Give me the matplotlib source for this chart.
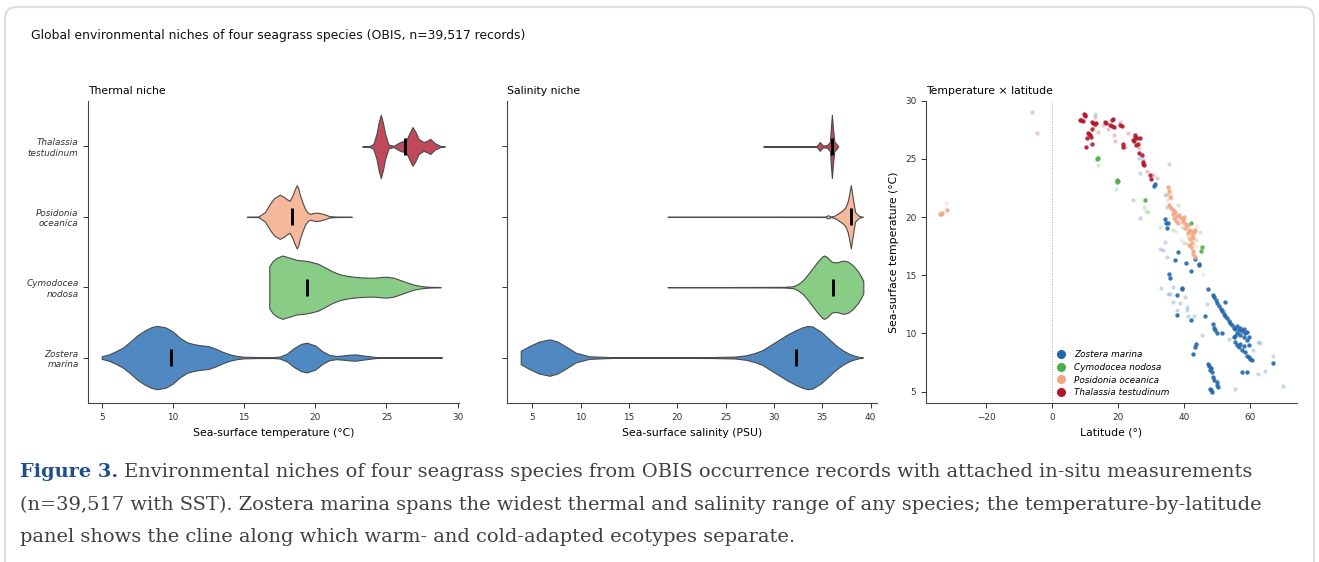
import numpy as np
import matplotlib
matplotlib.use('Agg')
import matplotlib.pyplot as plt
from matplotlib.patches import FancyBboxPatch
from matplotlib.lines import Line2D

# Species (bottom to top in the violin panels)
species = ['Zostera\nmarina', 'Cymodocea\nnodosa', 'Posidonia\noceanica', 'Thalassia\ntestudinum']
legend_names = ['Zostera marina', 'Cymodocea nodosa', 'Posidonia oceanica', 'Thalassia testudinum']
point_colors = ['#2166ac', '#4daf4a', '#f4a582', '#b2182b']
violin_colors = ['#5088c1', '#89cc86', '#f6b89b', '#c2485b']

# Thermal niche: density profiles (SST value, relative width)
zm_sst_x = [5.0, 5.5, 6.0, 6.5, 7.0, 7.5, 8.0, 8.5, 8.9, 9.5, 10.0, 10.5, 11.0, 11.5, 11.9, 12.5, 13.0,
            13.5, 14.0, 14.5, 15.0, 16.0, 17.0, 17.5, 18.0, 18.5, 19.0, 19.4, 20.0, 20.5, 21.0, 21.5,
            22.0, 22.4, 22.8, 23.3, 23.8, 24.3, 25.0, 28.9]
zm_sst_d = [0.04, 0.1, 0.2, 0.32, 0.5, 0.7, 0.85, 0.96, 1.0, 0.95, 0.82, 0.62, 0.48, 0.42, 0.39, 0.36, 0.28,
            0.18, 0.1, 0.05, 0.025, 0.015, 0.015, 0.03, 0.12, 0.3, 0.43, 0.47, 0.38, 0.2, 0.08, 0.05,
            0.07, 0.09, 0.1, 0.07, 0.04, 0.015, 0.004, 0.002]
cn_sst_x = [16.77, 17.0, 17.3, 17.7, 18.2, 18.7, 19.2, 19.7, 20.2, 20.7, 21.2, 21.7, 22.2, 22.7, 23.2,
            23.7, 24.2, 24.6, 25.0, 25.5, 26.0, 26.5, 27.0, 27.5, 28.0, 28.8]
cn_sst_d = [0.66, 0.82, 0.93, 1.0, 0.93, 0.86, 0.84, 0.8, 0.74, 0.62, 0.5, 0.41, 0.36, 0.33, 0.31,
            0.3, 0.3, 0.32, 0.33, 0.3, 0.22, 0.14, 0.07, 0.03, 0.012, 0.005]
po_sst_x = [15.2, 16.0, 16.47, 16.82, 17.1, 17.5, 17.8, 18.0, 18.2, 18.4, 18.55, 18.7, 18.8, 18.93,
            19.1, 19.28, 19.45, 19.63, 19.8, 19.98, 20.3, 20.7, 21.0, 21.5, 22.56]
po_sst_d = [0.005, 0.01, 0.15, 0.41, 0.58, 0.69, 0.62, 0.55, 0.5, 0.67, 0.85, 0.99, 0.9, 0.67,
            0.45, 0.25, 0.14, 0.09, 0.11, 0.13, 0.12, 0.07, 0.02, 0.008, 0.004]
tt_sst_x = [23.3, 23.8, 24.08, 24.3, 24.45, 24.6, 24.75, 24.9, 25.14, 25.5, 25.96, 26.2, 26.43, 26.65,
            26.83, 27.05, 27.25, 27.6, 27.85, 28.07, 28.4, 28.76, 29.1]
tt_sst_d = [0.005, 0.01, 0.08, 0.4, 0.75, 1.0, 0.75, 0.4, 0.06, 0.02, 0.14, 0.17, 0.24, 0.45,
            0.61, 0.45, 0.24, 0.14, 0.18, 0.24, 0.1, 0.02, 0.003]
sst_medians = [9.9, 19.4, 18.4, 26.3]

# Salinity niche: density profiles (PSU value, relative width)
zm_sal_x = [3.8, 4.7, 5.7, 6.8, 7.6, 8.5, 9.5, 10.9, 13.3, 17.0, 20.2, 23.6, 26.0, 27.1, 28.0, 28.8,
            29.7, 30.5, 31.4, 32.3, 33.0, 33.5, 34.0, 34.9, 35.8, 36.5, 37.1, 37.7, 38.2, 38.8, 39.2]
zm_sal_d = [0.21, 0.36, 0.5, 0.57, 0.5, 0.34, 0.15, 0.04, 0.012, 0.01, 0.01, 0.015, 0.03, 0.07, 0.14, 0.23,
            0.4, 0.55, 0.72, 0.86, 0.95, 0.99, 0.97, 0.8, 0.55, 0.36, 0.23, 0.13, 0.07, 0.02, 0.004]
cn_sal_x = [19.0, 25.0, 31.0, 32.0, 32.5, 33.0, 33.5, 34.0, 34.5, 35.0, 35.2, 35.5, 36.0, 36.5, 37.0,
            37.3, 37.7, 38.2, 38.7, 39.0, 39.25]
cn_sal_d = [0.005, 0.005, 0.01, 0.03, 0.1, 0.22, 0.4, 0.6, 0.8, 0.97, 1.0, 0.95, 0.8, 0.78, 0.83,
            0.84, 0.8, 0.68, 0.5, 0.35, 0.2]
po_sal_x = [19.0, 30.0, 35.3, 35.6, 35.9, 36.3, 36.6, 37.1, 37.4, 37.65, 37.8, 37.96, 38.15, 38.4, 38.8, 39.2]
po_sal_d = [0.004, 0.004, 0.006, 0.05, 0.01, 0.04, 0.1, 0.2, 0.3, 0.5, 0.73, 1.0, 0.62, 0.15, 0.03, 0.003]
tt_sal_x = [28.9, 33.0, 34.4, 34.6, 34.75, 34.9, 35.1, 35.5, 35.8, 35.9, 36.0, 36.1, 36.25, 36.4, 36.55, 36.65]
tt_sal_d = [0.005, 0.005, 0.01, 0.08, 0.14, 0.08, 0.03, 0.04, 0.15, 0.6, 1.0, 0.6, 0.15, 0.1, 0.05, 0.003]
sal_medians = [32.3, 36.1, 38.0, 36.0]

# Temperature x latitude scatter: dense (overlapping) records and sparse records
zm_lat = [31.1, 30.9, 34.2, 34.4, 35.1, 34.8, 38.2, 37.2, 40.5, 43.2, 44.5, 44.6, 41.9, 35.4, 35.8, 39.2,
          39.4, 47.3, 37.7, 37.9, 42.2, 46.3, 52.3, 51.6, 43.7, 43.2, 42.7, 57.4, 58.9, 66.8,
          48.6, 49.0, 49.5, 50.0, 50.5, 51.0, 51.5, 52.0, 52.5, 53.0, 53.5, 54.0, 54.5, 55.0, 55.5,
          56.0, 56.5, 57.0, 57.5, 58.0, 58.5, 56.0, 57.0, 58.0, 55.5, 59.0, 59.5,
          55.0, 55.5, 56.0, 56.5, 57.0, 57.5, 58.0, 58.5, 59.0, 59.5, 60.0, 60.4, 58.9, 59.5,
          48.6, 49.0, 49.8, 49.3, 47.3, 47.6, 48.0, 48.3, 47.8, 48.8, 49.0, 49.8, 50.3, 50.0, 47.7, 48.3, 48.0]
zm_sst = [22.83, 22.7, 19.8, 19.5, 19.5, 19.1, 17.0, 16.3, 16.06, 16.4, 16.0, 15.9, 15.37, 15.15, 14.8, 13.9,
          13.8, 13.85, 13.3, 11.55, 11.2, 11.47, 12.7, 10.03, 9.1, 8.8, 8.25, 6.7, 6.7, 7.45,
          13.3, 13.1, 12.9, 12.6, 12.4, 12.1, 11.9, 11.7, 11.5, 11.3, 11.1, 10.9, 10.7, 10.5, 10.4,
          10.6, 10.3, 10.5, 10.2, 10.4, 10.0, 10.0, 9.9, 9.7, 9.8, 10.1, 9.7,
          9.7, 9.3, 9.0, 8.8, 9.1, 8.6, 8.9, 8.4, 8.1, 8.0, 7.8, 7.7, 9.4, 9.0,
          10.8, 10.5, 10.0, 10.3, 7.4, 7.2, 7.0, 6.7, 6.9, 6.25, 6.0, 5.8, 5.4, 5.6, 5.25, 4.95, 5.1]
zm_lat_sparse = [12.95, 26.4, 27.6, 35.4, 26.6, 24.6, 26.6, 34.2, 34.7, 34.2, 32.6, 33.6, 34.7, 36.7, 35.1,
                 40.7, 40.7, 41.0, 43.0, 33.1, 47.0, 52.0, 62.4, 63.0, 67.0, 64.5, 62.4, 69.8, 55.4,
                 35.7, 36.7, 37.7, 38.7, 40.2, 45.5, 53.5, 61.0]
zm_sst_sparse = [28.85, 25.1, 25.0, 24.6, 23.8, 21.5, 19.9, 21.9, 20.9, 17.87, 17.3, 17.15, 16.57, 14.0, 13.4,
                 12.3, 12.0, 11.5, 11.5, 13.9, 12.5, 11.9, 9.26, 9.2, 8.1, 6.77, 6.5, 5.45, 5.25,
                 13.4, 12.7, 12.0, 12.6, 13.1, 9.9, 9.5, 8.6]

cn_lat = [13.6, 13.8, 19.7, 19.7, 19.9, 28.1, 42.2, 45.3, 45.0]
cn_sst = [24.98, 25.05, 23.2, 23.0, 23.1, 21.45, 19.45, 17.44, 17.1]
cn_lat_sparse = [13.4, 13.9, 19.3, 27.8, 28.4, 29.1, 32.6, 36.7, 39.2, 34.7, 36.0, 44.8, 38.0, 41.0, 43.5, 40.0]
cn_sst_sparse = [25.2, 24.5, 22.45, 20.9, 20.5, 20.45, 19.16, 18.87, 19.16, 22.0, 21.6, 18.73, 21.0, 18.3, 18.0, 17.8]

po_lat = [-34.0, -33.5, -33.8, -32.0,
          35.1, 35.5, 35.8, 35.3, 36.0, 36.7, 36.5, 37.2, 37.8, 38.4, 38.9, 39.5, 40.0, 39.6, 40.5,
          40.2, 41.0, 41.5, 41.2, 42.0, 42.5, 43.0, 42.8, 43.3, 41.8, 42.3, 42.0, 42.6, 42.8, 43.2,
          41.5, 37.5, 38.0, 36.9]
po_sst = [20.3, 20.36, 20.25, 20.6,
          22.55, 22.2, 21.7, 21.0, 20.8, 20.6, 20.3, 20.4, 20.1, 20.2, 19.9, 19.8, 20.0, 19.6, 19.4,
          19.1, 19.3, 18.9, 18.6, 18.8, 18.5, 18.7, 18.2, 18.9, 18.1, 17.8, 17.4, 17.1, 16.8, 16.6,
          17.6, 19.7, 19.5, 19.9]
po_lat_sparse = [-32.3, 45.8, 34.8, 36.0, 37.5, 39.0, 44.0, 43.5, 40.5, 35.2]
po_sst_sparse = [21.2, 15.15, 21.5, 22.0, 18.8, 18.0, 19.2, 17.5, 17.8, 22.0]

tt_lat = [8.4, 9.2, 8.8, 9.5, 9.9, 10.0, 11.9, 12.4, 12.9, 13.3, 16.0, 16.4, 18.0, 18.4, 17.5, 18.0, 18.6,
          20.5, 21.0, 11.9, 10.9, 11.4, 11.0, 10.4, 11.6, 11.9, 10.2, 25.0, 25.6, 24.5, 25.2, 26.6, 26.0,
          24.8, 21.3, 21.5, 25.4, 26.4, 27.1, 27.4, 27.8, 27.6, 29.6, 29.9]
tt_sst = [28.3, 28.25, 28.35, 28.86, 28.7, 28.8, 28.15, 28.1, 28.0, 28.1, 28.2, 28.1, 28.3, 28.4, 27.9, 27.8,
          27.7, 27.9, 27.8, 27.6, 27.25, 27.05, 27.15, 26.8, 26.85, 26.3, 26.0, 27.05, 26.76, 26.6, 26.9,
          26.76, 26.3, 26.55, 26.3, 26.0, 26.2, 25.5, 25.3, 24.75, 24.47, 24.6, 23.6, 23.3]
tt_lat_sparse = [-6.1, -4.5, 15.5, 17.0, 18.6, 19.1, 22.1, 23.1, 26.3, 28.6, 30.6, 31.6, 14.0, 12.5, 13.0, 20.5]
tt_sst_sparse = [29.05, 27.25, 27.9, 27.6, 27.05, 26.5, 26.04, 27.2, 25.9, 24.0, 23.6, 23.4, 27.3, 27.8, 28.6, 28.2]

W, H = 1319, 562
fig = plt.figure(figsize=(W / 100, H / 100), dpi=100)

# card frame
bg = fig.add_axes([0, 0, 1, 1], zorder=-1)
bg.set_xlim(0, W)
bg.set_ylim(H, 0)
bg.axis('off')
bg.add_patch(FancyBboxPatch((5, 7), W - 10, H + 10, boxstyle='round,pad=0,rounding_size=12',
                            facecolor='white', edgecolor='#dedede', linewidth=1.6))


def px_axes(x0, x1, y0, y1):
    return fig.add_axes([x0 / W, 1 - y1 / H, (x1 - x0) / W, (y1 - y0) / H])


def style(ax):
    for s in ['top', 'right']:
        ax.spines[s].set_visible(False)
    for s in ['left', 'bottom']:
        ax.spines[s].set_color('#444444')
        ax.spines[s].set_linewidth(0.8)
    ax.tick_params(labelsize=6.4, colors='#333333', length=3.5, width=0.7)


def draw_violins(ax, profiles, medians):
    stats = []
    for (xs, ds), med in zip(profiles, medians):
        stats.append({'coords': np.array(xs), 'vals': np.array(ds), 'mean': med,
                      'median': med, 'min': xs[0], 'max': xs[-1]})
    parts = ax.violin(stats, positions=range(4), orientation='horizontal', widths=0.9,
                      showmeans=False, showextrema=False, showmedians=False)
    for body, c in zip(parts['bodies'], violin_colors):
        body.set_facecolor(c)
        body.set_edgecolor('#4a4a4a')
        body.set_linewidth(0.8)
        body.set_alpha(1)
    pos = np.arange(4)
    ax.vlines(medians, pos - 0.12, pos + 0.12, color='black', lw=2.1, zorder=3)
    ax.set_ylim(-0.65, 3.65)
    ax.set_yticks(pos)


lab_fs = 7.8

ax1 = px_axes(88.3, 459.1, 100.7, 403.3)
draw_violins(ax1, [(zm_sst_x, zm_sst_d), (cn_sst_x, cn_sst_d), (po_sst_x, po_sst_d), (tt_sst_x, tt_sst_d)],
             sst_medians)
ax1.set_xlim(4.06, 30.1)
ax1.set_xticks([5, 10, 15, 20, 25, 30])
ax1.set_yticklabels(species, fontstyle='italic')
ax1.set_xlabel('Sea-surface temperature (°C)', fontsize=lab_fs)
ax1.set_title('Thermal niche', loc='left', fontsize=lab_fs, pad=5)
style(ax1)

ax2 = px_axes(507.3, 877.3, 100.7, 403.3)
draw_violins(ax2, [(zm_sal_x, zm_sal_d), (cn_sal_x, cn_sal_d), (po_sal_x, po_sal_d), (tt_sal_x, tt_sal_d)],
             sal_medians)
ax2.set_xlim(2.41, 40.7)
ax2.set_xticks([5, 10, 15, 20, 25, 30, 35, 40])
ax2.set_yticklabels([])
ax2.set_xlabel('Sea-surface salinity (PSU)', fontsize=lab_fs)
ax2.set_title('Salinity niche', loc='left', fontsize=lab_fs, pad=5)
style(ax2)

ax3 = px_axes(926, 1296.7, 100.7, 403.3)
ax3.axvline(0, color='#aaaaaa', lw=0.7, ls=':', zorder=0)
dense = [(zm_lat, zm_sst), (cn_lat, cn_sst), (po_lat, po_sst), (tt_lat, tt_sst)]
sparse = [(zm_lat_sparse, zm_sst_sparse), (cn_lat_sparse, cn_sst_sparse),
          (po_lat_sparse, po_sst_sparse), (tt_lat_sparse, tt_sst_sparse)]
for (lx, ly), (sx, sy), c in zip(dense, sparse, point_colors):
    ax3.scatter(sx, sy, s=9, color=c, alpha=0.25, linewidths=0)
    ax3.scatter(lx, ly, s=10, color=c, alpha=0.9, linewidths=0)
ax3.set_xlim(-38.3, 74.1)
ax3.set_ylim(4, 30)
ax3.set_xticks([-20, 0, 20, 40, 60])
ax3.set_xticklabels(['\u221220', '0', '20', '40', '60'])
ax3.set_yticks([5, 10, 15, 20, 25, 30])
ax3.set_xlabel('Latitude (°)', fontsize=lab_fs)
ax3.set_ylabel('Sea-surface temperature (°C)', fontsize=lab_fs)
ax3.set_title('Temperature \u00d7 latitude', loc='left', fontsize=lab_fs, pad=5)
style(ax3)
handles = [Line2D([], [], marker='o', ls='none', color=c, markersize=5.5) for c in point_colors]
leg = ax3.legend(handles, legend_names, loc='lower left', bbox_to_anchor=(0.352, 0.02), frameon=False,
                 prop={'size': 6.4, 'style': 'italic'}, handlelength=1.0, handletextpad=1.0,
                 labelspacing=0.42, borderpad=0, borderaxespad=0)

fig.text(31 / W, 1 - 36 / H, 'Global environmental niches of four seagrass species (OBIS, n=39,517 records)',
         fontsize=8.9, va='center', ha='left', color='#111111')

# caption
cap_lines = ['Environmental niches of four seagrass species from OBIS occurrence records with attached in-situ measurements',
             '(n=39,517 with SST). Zostera marina spans the widest thermal and salinity range of any species; the temperature-by-latitude',
             'panel shows the cline along which warm- and cold-adapted ecotypes separate.']
cap_y = [472, 505, 537]
fs = 14
head = fig.text(20 / W, 1 - cap_y[0] / H, 'Figure 3.', fontsize=fs, family='DejaVu Serif', weight='bold',
                color='#1f4f8f', va='center')
renderer = fig.canvas.get_renderer()
hb = head.get_window_extent(renderer)
first = fig.text(0, 1 - cap_y[0] / H, ' ' + cap_lines[0], fontsize=fs, family='DejaVu Serif',
                 color='#404040', va='center')
total = hb.width + first.get_window_extent(renderer).width
fs = fs * (1236 / total)
head.set_fontsize(fs)
first.set_fontsize(fs)
hb = head.get_window_extent(renderer)
first.set_x(hb.x1 / W)
for line, y in zip(cap_lines[1:], cap_y[1:]):
    fig.text(20 / W, 1 - y / H, line, fontsize=fs, family='DejaVu Serif', color='#404040', va='center')

fig.savefig('out.png', dpi=100)
